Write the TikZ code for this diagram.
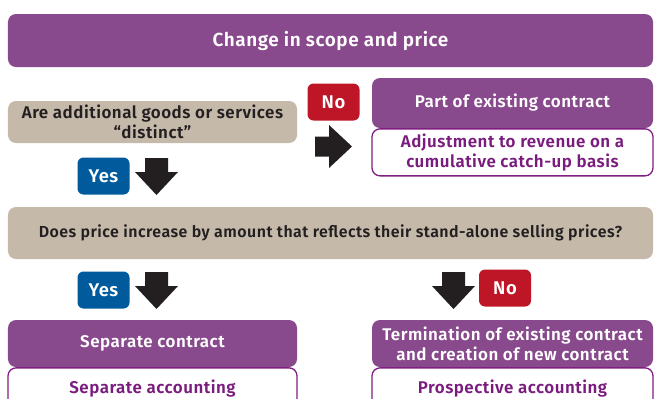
\documentclass[tikz,border=0pt]{standalone}
\usepackage{fontspec}
\setmainfont{Fira Sans}[BoldFont={Fira Sans SemiBold}, LetterSpace=3]
\usetikzlibrary{positioning}

\definecolor{boxpurple}{RGB}{136,74,140}
\definecolor{boxbeige}{RGB}{197,186,170}
\definecolor{edgepurple}{RGB}{128,30,130}
\definecolor{textpurple}{RGB}{122,28,126}
\definecolor{textdark}{RGB}{35,31,32}
\definecolor{nored}{RGB}{190,22,38}
\definecolor{yesblue}{RGB}{0,90,156}

\tikzset{
    box/.style={rounded corners=8bp, inner sep=0pt, align=center,
        font=\bfseries\fontsize{17}{20}\selectfont},
    headbox/.style={box, fill=boxpurple, text=white},
    askbox/.style={box, fill=boxbeige, text=textdark},
    notebox/.style={box, draw=edgepurple, line width=1.3bp, fill=white, text=textpurple},
    badge/.style={rounded corners=6bp, inner sep=0pt, minimum width=52bp,
        minimum height=37bp, text=white, font=\bfseries\fontsize{18.5}{20}\selectfont},
    % block arrows, pointing down / right from their base
    pics/downarr/.style={code={
        \fill[textdark] (-11.5,0) -- (11.5,0) -- (11.5,14) -- (21.5,14)
            -- (0,37) -- (-21.5,14) -- (-11.5,14) -- cycle;}},
    pics/rightarr/.style={code={
        \fill[textdark] (0,-10) -- (14,-10) -- (14,-21.5) -- (37,0)
            -- (14,21.5) -- (14,10) -- (0,10) -- cycle;}},
}

\begin{document}
\begin{tikzpicture}[x=1bp,y=-1bp]
    \clip (0,0) rectangle (656,398);
    \fill[white] (0,0) rectangle (656,398);

    \node[headbox, minimum width=645bp, minimum height=53bp,
        font=\bfseries\fontsize{19}{20}\selectfont] (scope) at (330.5,40.5) {Change in scope and price};

    % first question
    \node[askbox, minimum width=289bp, minimum height=42bp] (distinct) at (152.5,122)
        {Are additional goods or services\\``distinct''};
    \node[badge, fill=nored] (no1) at (333.5,102) {No};
    \pic at (315,146.5) {rightarr};
    \node[headbox, minimum width=281bp, minimum height=50bp] (part) at (512.5,103)
        {Part of existing contract};
    \node[notebox, minimum width=281bp, minimum height=47bp, below=0pt of part] (catchup)
        {Adjustment to revenue on a\\cumulative catch-up basis};
    \node[badge, fill=yesblue] (yes1) at (103.5,176) {Yes};
    \pic at (156.5,158) {downarr};

    % second question
    \node[askbox, minimum width=645bp, minimum height=52bp,
        font=\bfseries\fontsize{16}{18}\selectfont] (price) at (330.5,233)
        {Does price increase by amount that reflects their stand-alone selling prices?};
    \node[badge, fill=yesblue] (yes2) at (103.5,290) {Yes};
    \pic at (156.5,272) {downarr};
    \pic at (453.5,272) {downarr};
    \node[badge, fill=nored] (no2) at (505,288) {No};

    % outcomes
    \node[headbox, minimum width=289bp, minimum height=47bp] (separate) at (152.5,343.5)
        {Separate contract};
    \node[notebox, minimum width=289bp, minimum height=46bp, below=0pt of separate] (sepacc)
        {\raisebox{9bp}{Separate accounting}};
    \node[headbox, minimum width=281bp, minimum height=47bp] (newcontract) at (512.5,343.5)
        {Termination of existing contract\\and creation of new contract};
    \node[notebox, minimum width=281bp, minimum height=46bp, below=0pt of newcontract] (prosacc)
        {\raisebox{9bp}{Prospective accounting}};
\end{tikzpicture}
\end{document}
